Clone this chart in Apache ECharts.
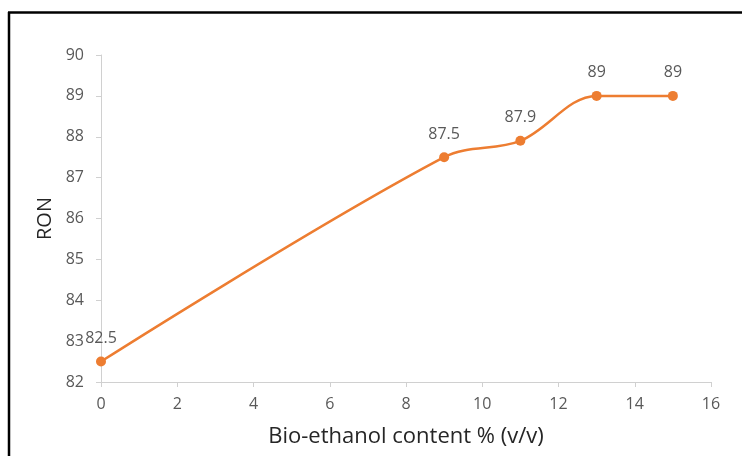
<!DOCTYPE html>
<html>
<head>
<meta charset="utf-8">
<script src="https://cdn.jsdelivr.net/npm/echarts@6/dist/echarts.min.js"></script>
<style>
  html, body { margin: 0; padding: 0; background: #fff; }
  #chart { width: 742px; height: 456px; }
</style>
</head>
<body>
<div id="chart"></div>
<script>
// Bio-ethanol blend content (% v/v) and measured research octane number
const ethanolContent = [0, 9, 11, 13, 15];
const ronValues = [82.5, 87.5, 87.9, 89, 89];
const xTicks = [0, 2, 4, 6, 8, 10, 12, 14, 16];
const yTicks = [82, 83, 84, 85, 86, 87, 88, 89, 90];

const FONT = '"Open Sans", "Noto Sans", sans-serif';
const chart = echarts.init(document.getElementById('chart'), null, { renderer: 'canvas' });

chart.setOption({
  animation: false,
  backgroundColor: '#ffffff',
  grid: { left: 101, right: 31, top: 55, bottom: 74 },
  graphic: [
    { type: 'line', shape: { x1: 8, y1: 12.5, x2: 742, y2: 12.5 }, style: { stroke: '#000', lineWidth: 2.5 } },
    { type: 'line', shape: { x1: 9, y1: 12, x2: 9, y2: 456 }, style: { stroke: '#000', lineWidth: 2.5 } }
  ],
  xAxis: {
    type: 'value',
    min: xTicks[0],
    max: xTicks[xTicks.length - 1],
    interval: 2,
    name: 'Bio-ethanol content % (v/v)',
    nameLocation: 'middle',
    nameGap: 44,
    nameTextStyle: { fontFamily: FONT, fontSize: 22, color: '#262626' },
    axisLine: { show: true, lineStyle: { color: '#d0d0d0', width: 1 } },
    axisTick: { show: true, length: 5, lineStyle: { color: '#d0d0d0' } },
    axisLabel: { fontFamily: FONT, fontSize: 16, color: '#595959', margin: 14 },
    splitLine: { show: false }
  },
  yAxis: {
    type: 'value',
    min: yTicks[0],
    max: yTicks[yTicks.length - 1],
    interval: 1,
    name: 'RON',
    nameLocation: 'middle',
    nameRotate: 90,
    nameGap: 45,
    nameTextStyle: { fontFamily: FONT, fontSize: 20, color: '#262626' },
    axisLine: { show: true, lineStyle: { color: '#d0d0d0', width: 1 } },
    axisTick: { show: true, length: 5, lineStyle: { color: '#d0d0d0' } },
    axisLabel: { fontFamily: FONT, fontSize: 16, color: '#595959', margin: 17 },
    splitLine: { show: false }
  },
  series: [{
    type: 'line',
    data: ethanolContent.map((x, i) => [x, ronValues[i]]),
    smooth: 0.35,
    symbol: 'circle',
    symbolSize: 10,
    itemStyle: { color: '#ED7D31' },
    lineStyle: { color: '#ED7D31', width: 2.5 },
    label: {
      show: true,
      position: 'top',
      distance: 10,
      fontFamily: FONT,
      fontSize: 16,
      color: '#595959',
      formatter: p => String(p.value[1])
    }
  }]
});
</script>
</body>
</html>
